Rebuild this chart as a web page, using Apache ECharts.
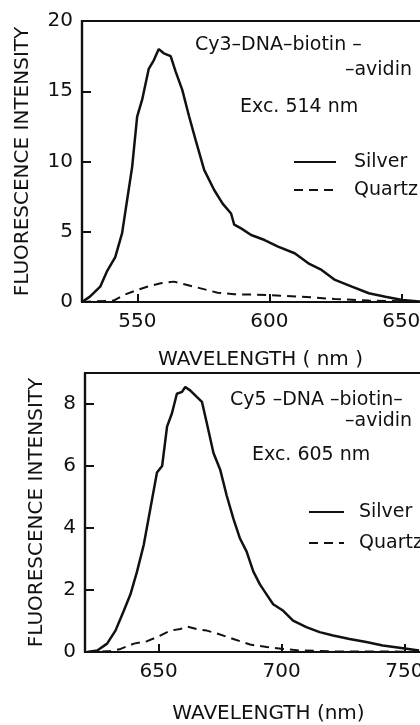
<!DOCTYPE html>
<html>
<head>
<meta charset="utf-8">
<script src="https://cdn.jsdelivr.net/npm/echarts@6/dist/echarts.min.js"></script>
<style>
  html, body { margin: 0; padding: 0; background: #fff; overflow: hidden; }
  #chart { width: 440px; height: 725px; }
</style>
</head>
<body>
<div id="chart"></div>
<script>
// Cy3 panel (top), exc. 514 nm
const cy3SilverWl  = [529, 532, 535.9, 538.4, 541.6, 544.2, 546.1, 548, 549.9, 551.8, 554.3, 556.2, 558.1, 560, 562.6, 564.5, 567, 569.6, 572.1, 575.3, 579.1, 582.3, 585.5, 586.7, 589.3, 593.1, 598.2, 603.3, 609.6, 614.8, 619.8, 624.9, 631.3, 637.7, 644, 650.4, 659]
const cy3SilverVal = [0, 0.38, 1.09, 2.16, 3.2, 4.9, 7.26, 9.6, 13.2, 14.4, 16.6, 17.2, 18.0, 17.7, 17.5, 16.4, 15.1, 13.2, 11.5, 9.4, 7.97, 7.0, 6.3, 5.5, 5.24, 4.77, 4.41, 3.94, 3.47, 2.75, 2.28, 1.57, 1.09, 0.62, 0.38, 0.14, 0]
const cy3QuartzWl  = [529, 541, 544.8, 549.9, 553.7, 558.8, 563.8, 568.9, 574, 580.4, 586.7, 599.5, 612.2, 624.9, 637.7, 650, 659]
const cy3QuartzVal = [0, 0.1, 0.5, 0.85, 1.09, 1.33, 1.45, 1.21, 0.97, 0.66, 0.55, 0.5, 0.38, 0.21, 0.1, 0.05, 0.02]

// Cy5 panel (bottom), exc. 605 nm
const cy5SilverWl  = [620.9, 625, 629, 632.4, 635.8, 638.5, 641.2, 643.9, 646.6, 649.3, 651.4, 653.4, 655.4, 657.4, 659.5, 660.8, 662.8, 665.5, 667.6, 669.6, 672.3, 675, 677.7, 680.4, 683.1, 685.8, 688.5, 691.2, 693.9, 696.6, 700.7, 704.7, 710.1, 715.5, 721, 727.7, 734.5, 741.2, 748, 756]
const cy5SilverVal = [0, 0.05, 0.27, 0.69, 1.33, 1.86, 2.6, 3.45, 4.62, 5.79, 6.0, 7.27, 7.7, 8.33, 8.39, 8.55, 8.44, 8.23, 8.07, 7.38, 6.42, 5.89, 5.04, 4.3, 3.66, 3.24, 2.6, 2.18, 1.86, 1.54, 1.33, 1.01, 0.8, 0.64, 0.53, 0.42, 0.32, 0.21, 0.14, 0.05]
const cy5QuartzWl  = [620.9, 630.4, 634.5, 639.9, 645.3, 649.3, 654.7, 658.8, 661.5, 665.5, 669.6, 673.6, 680.4, 687.2, 694, 700.7, 707.4, 721, 756]
const cy5QuartzVal = [0, 0.03, 0.1, 0.27, 0.35, 0.48, 0.69, 0.74, 0.82, 0.74, 0.69, 0.6, 0.42, 0.24, 0.16, 0.1, 0.05, 0.02, 0.01]

const topXTicks = [550, 600, 650]
const topYTicks = [0, 5, 10, 15, 20]
const botXTicks = [650, 700, 750]
const botYTicks = [0, 2, 4, 6, 8]

const INK = '#111'
const FONT = 'DejaVu Sans'

const zip = (xs, ys) => xs.map((x, i) => [x, ys[i]])

function xAxis(gridIndex, min, max, ticks, name, nameGap, shift) {
  return {
    type: 'value', gridIndex, min, max,
    name, nameLocation: 'middle', nameGap,
    nameTextStyle: { color: INK, fontSize: 20, fontFamily: FONT, padding: [0, 0, 0, shift] },
    axisLine: { lineStyle: { color: INK, width: 2.2 } },
    axisTick: { inside: true, length: 8, lineStyle: { color: INK, width: 2 }, customValues: ticks },
    axisLabel: { color: INK, fontSize: 20, fontFamily: FONT, margin: 10, customValues: ticks },
    splitLine: { show: false },
  }
}

function yAxis(gridIndex, max, ticks, nameGap) {
  return {
    type: 'value', gridIndex, min: 0, max,
    name: 'FLUORESCENCE INTENSITY', nameLocation: 'middle', nameGap,
    nameTextStyle: { color: INK, fontSize: 20, fontFamily: FONT },
    axisLine: { lineStyle: { color: INK, width: 2.2 } },
    axisTick: { inside: true, length: 9, lineStyle: { color: INK, width: 2 }, customValues: ticks },
    axisLabel: { color: INK, fontSize: 20, fontFamily: FONT, margin: 9, customValues: ticks },
    splitLine: { show: false },
  }
}

function line(name, xi, data, dashed) {
  return {
    name, type: 'line', xAxisIndex: xi, yAxisIndex: xi,
    data, symbol: 'none', smooth: false,
    lineStyle: { color: INK, width: dashed ? 2 : 2.5, type: dashed ? [9, 6] : 'solid' },
    itemStyle: { color: INK },
  }
}

function label(text, x, y, align) {
  return {
    type: 'text', left: align === 'right' ? null : x, right: align === 'right' ? x : null, top: y,
    style: { text, fill: INK, font: `19px "${FONT}"` },
  }
}

function legend(left, top, width, gap, pad) {
  return {
    left, top, padding: 0, orient: 'vertical', itemWidth: width, itemHeight: 20, itemGap: gap,
    data: ['Silver', 'Quartz'], selectedMode: false,
    itemStyle: { opacity: 0 },
    textStyle: { color: INK, fontSize: 19, fontFamily: FONT, lineHeight: 20, padding: [0, 0, 0, pad] },
  }
}

const chart = echarts.init(document.getElementById('chart'))
chart.setOption({
  backgroundColor: '#fff',
  animation: false,
  grid: [
    { left: 82, right: 15, top: 21, height: 281, show: true, borderColor: INK, borderWidth: 2.2 },
    { left: 85, right: 16, top: 373, height: 282, show: true, borderColor: INK, borderWidth: 2.2 },
  ],
  xAxis: [
    xAxis(0, 529, 659, topXTicks, 'WAVELENGTH ( nm )', 48, 14),
    xAxis(1, 620, 758, botXTicks, 'WAVELENGTH (nm)', 52, 28),
  ],
  yAxis: [
    yAxis(0, 20, topYTicks, 49),
    yAxis(1, 9, botYTicks, 38),
  ],
  legend: [
    legend(293, 152, 42, 8, 13),
    legend(308, 502, 35, 11, 10),
  ],
  graphic: [
    label('Cy3–DNA–biotin –', 195, 36),
    label('–avidin', 28, 61, 'right'),
    label('Exc. 514 nm', 240, 98),
    label('Cy5 –DNA –biotin–', 230, 391),
    label('–avidin', 345, 412),
    label('Exc. 605 nm', 252, 446),
  ],
  series: [
    line('Silver', 0, zip(cy3SilverWl, cy3SilverVal), false),
    line('Quartz', 0, zip(cy3QuartzWl, cy3QuartzVal), true),
    line('Silver', 1, zip(cy5SilverWl, cy5SilverVal), false),
    line('Quartz', 1, zip(cy5QuartzWl, cy5QuartzVal), true),
  ],
})
</script>
</body>
</html>
